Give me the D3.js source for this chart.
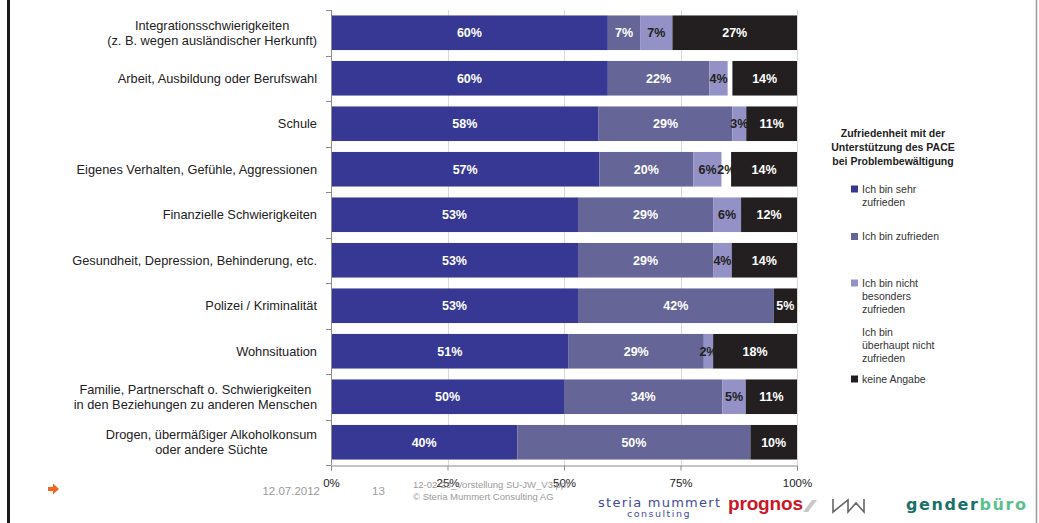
<!DOCTYPE html>
<html>
<head>
<meta charset="utf-8">
<script src="https://cdn.jsdelivr.net/npm/d3@7"></script>
<style>
  html, body { margin: 0; padding: 0; background: #ffffff; }
  svg { display: block; font-family: "Liberation Sans", Arial, sans-serif; }
</style>
</head>
<body>
<svg id="chart" width="1039" height="523"></svg>
<script>
// Problem areas (one line per label row)
const categories = [
  "Integrationsschwierigkeiten\n(z. B. wegen ausländischer Herkunft)",
  "Arbeit, Ausbildung oder Berufswahl",
  "Schule",
  "Eigenes Verhalten, Gefühle, Aggressionen",
  "Finanzielle Schwierigkeiten",
  "Gesundheit, Depression, Behinderung, etc.",
  "Polizei / Kriminalität",
  "Wohnsituation",
  "Familie, Partnerschaft o. Schwierigkeiten\nin den Beziehungen zu anderen Menschen",
  "Drogen, übermäßiger Alkoholkonsum\noder andere Süchte"
];

// Satisfaction answers in percent, per category
const sehrZufrieden        = [60, 60, 58, 57, 53, 53, 53, 51, 50, 40];
const zufrieden            = [ 7, 22, 29, 20, 29, 29, 42, 29, 34, 50];
const nichtBesonders       = [ 7,  4,  3,  6,  6,  4,  0,  2,  5,  0];
const ueberhauptNicht      = [ 0,  1,  0,  2,  0,  0,  0,  0,  0,  0];
const keineAngabe          = [27, 14, 11, 14, 12, 14,  5, 18, 11, 10];

const seriesNames = [
  "Ich bin sehr\nzufrieden",
  "Ich bin zufrieden",
  "Ich bin nicht\nbesonders\nzufrieden",
  "Ich bin\nüberhaupt nicht\nzufrieden",
  "keine Angabe"
];
const seriesKeys = ["sehr", "zuf", "nicht", "ueber", "keine"];
const seriesColors = ["#363894", "#656598", "#9391c6", "#ffffff", "#231f20"];
const labelColors  = ["#ffffff", "#ffffff", "#231f20", "#231f20", "#ffffff"];

const xTicks = [0, 0.25, 0.5, 0.75, 1];
const legendTitle = ["Zufriedenheit mit der", "Unterstützung des PACE", "bei Problembewältigung"];

// table for the stack layout
const rows = categories.map((c, i) => ({
  cat: c,
  sehr: sehrZufrieden[i],
  zuf: zufrieden[i],
  nicht: nichtBesonders[i],
  ueber: ueberhauptNicht[i],
  keine: keineAngabe[i]
}));

const svg = d3.select("#chart");
const plot = { left: 331, right: 797, top: 10, bottom: 465 };

const x = d3.scaleLinear().domain([0, 1]).range([plot.left, plot.right]);
const y = d3.scaleBand().domain(categories).range([plot.top, plot.bottom])
  .paddingInner(0.24).paddingOuter(0.12);

// outer frame lines of the slide
svg.append("line").attr("x1", 8.5).attr("x2", 8.5).attr("y1", 0).attr("y2", 523)
  .attr("stroke", "#1a1a1a").attr("stroke-width", 3);
svg.append("line").attr("x1", 1036.5).attr("x2", 1036.5).attr("y1", 0).attr("y2", 523)
  .attr("stroke", "#9a9a9a").attr("stroke-width", 1.5);

// vertical gridlines
svg.append("g").selectAll("line").data(xTicks.slice(1)).join("line")
  .attr("x1", d => Math.round(x(d)) + 0.5).attr("x2", d => Math.round(x(d)) + 0.5)
  .attr("y1", plot.top).attr("y2", plot.bottom)
  .attr("stroke", "#d9d9d9").attr("stroke-width", 1);

// stacked, normalised to 100 %
const stack = d3.stack().keys(seriesKeys).offset(d3.stackOffsetExpand);
const stacked = stack(rows);

const layers = svg.append("g").selectAll("g").data(stacked).join("g")
  .attr("fill", (d, i) => seriesColors[i]);

layers.selectAll("rect").data(d => d).join("rect")
  .attr("x", d => x(d[0]))
  .attr("width", d => Math.max(0, x(d[1]) - x(d[0])))
  .attr("y", d => y(d.data.cat))
  .attr("height", y.bandwidth());

// value labels
const labelLayer = svg.append("g").attr("font-weight", "bold").attr("font-size", 12.5)
  .attr("text-anchor", "middle");
stacked.forEach((layer, si) => {
  labelLayer.selectAll(null).data(layer.filter(d => d.data[layer.key] >= 2)).join("text")
    .attr("x", d => (x(d[0]) + x(d[1])) / 2)
    .attr("y", d => y(d.data.cat) + y.bandwidth() / 2)
    .attr("dy", "0.36em")
    .attr("fill", labelColors[si])
    .text(d => d.data[layer.key] + "%");
});

// y axis with tick marks between categories
const yAxis = svg.append("g").attr("stroke", "#8c8c8c");
yAxis.append("line").attr("x1", plot.left + 0.5).attr("x2", plot.left + 0.5)
  .attr("y1", plot.top).attr("y2", plot.bottom);
const step = y.step();
yAxis.selectAll(".tk").data(d3.range(categories.length + 1)).join("line")
  .attr("class", "tk")
  .attr("x1", plot.left - 5).attr("x2", plot.left)
  .attr("y1", i => Math.round(plot.top + i * step) + 0.5)
  .attr("y2", i => Math.round(plot.top + i * step) + 0.5);

// category labels
const catSize = 12.8;
const catLabels = svg.append("g").attr("font-size", catSize).attr("fill", "#222")
  .attr("text-anchor", "middle");
categories.forEach(c => {
  const lines = c.split("\n");
  const cy = y(c) + y.bandwidth() / 2;
  const lh = 15;
  const t = catLabels.append("text");
  // widest line defines the right-aligned block; lines centred within it
  const widths = [];
  lines.forEach(l => {
    const tmp = svg.append("text").attr("font-size", catSize).text(l);
    widths.push(tmp.node().getComputedTextLength());
    tmp.remove();
  });
  const maxW = d3.max(widths);
  const cx = 317 - maxW / 2;
  lines.forEach((l, k) => {
    t.append("tspan").attr("x", cx)
      .attr("y", cy + (k - (lines.length - 1) / 2) * lh)
      .attr("dy", "0.36em").text(l);
  });
});

// x axis
const xAxis = d3.axisBottom(x).tickValues(xTicks).tickFormat(d3.format(".0%")).tickSize(5);
const gx = svg.append("g").attr("transform", `translate(0,${plot.bottom + 0.5})`).call(xAxis);
gx.select(".domain").attr("stroke", "#8c8c8c");
gx.selectAll(".tick line").attr("stroke", "#8c8c8c");
gx.selectAll(".tick text").attr("font-size", 11.5).attr("fill", "#222")
  .attr("font-family", "Liberation Sans, Arial, sans-serif").attr("y", 13);

// legend
const lg = svg.append("g");
lg.append("text").attr("font-weight", "bold").attr("font-size", 10.5).attr("fill", "#222")
  .attr("text-anchor", "middle")
  .selectAll("tspan").data(legendTitle).join("tspan")
  .attr("x", 893).attr("y", (d, i) => 136.5 + i * 14).text(d => d);

const legendY = [189, 236.5, 283, 332, 379];
seriesNames.forEach((name, i) => {
  lg.append("rect").attr("x", 851).attr("y", legendY[i] - 3.5)
    .attr("width", 7).attr("height", 7).attr("fill", seriesColors[i]);
  const t = lg.append("text").attr("font-size", 10.5).attr("fill", "#333");
  name.split("\n").forEach((l, k) => {
    t.append("tspan").attr("x", 862).attr("y", legendY[i] + k * 13.3)
      .attr("dy", "0.36em").text(l);
  });
});

// slide footer
const ft = svg.append("g").attr("fill", "#9a9a9a");
ft.append("path").attr("d", "M48,487 h5 v-3.5 l6,5.5 l-6,5.5 v-3.5 h-5 z").attr("fill", "#f26522");
ft.append("text").attr("x", 320).attr("y", 495).attr("font-size", 11.5)
  .attr("text-anchor", "end").text("12.07.2012");
ft.append("text").attr("x", 372).attr("y", 495).attr("font-size", 11.5).text("13");
ft.append("text").attr("x", 413).attr("y", 488).attr("font-size", 9.5)
  .text("12-02-23_Vorstellung SU-JW_V3.ppt");
ft.append("text").attr("x", 413).attr("y", 500).attr("font-size", 9.5)
  .text("© Steria Mummert Consulting AG");

// partner names
const logos = svg.append("g").attr("font-weight", "bold");
logos.append("text").attr("x", 659).attr("y", 507).attr("text-anchor", "middle")
  .attr("font-size", 13).attr("fill", "#3f4c9c").attr("font-family", "Verdana, DejaVu Sans, sans-serif")
  .attr("font-weight", "normal").attr("textLength", 122).text("steria mummert");
logos.append("text").attr("x", 659).attr("y", 517).attr("text-anchor", "middle")
  .attr("font-size", 9.5).attr("fill", "#3f4c9c").attr("font-family", "Verdana, DejaVu Sans, sans-serif")
  .attr("font-weight", "normal").attr("letter-spacing", 1.5).text("consulting");
logos.append("text").attr("x", 728).attr("y", 510).attr("font-size", 19)
  .attr("fill", "#cc1525").attr("textLength", 75).text("prognos");
logos.append("path").attr("d", "M803,512 L812,500 L817,500 L808,512 Z").attr("fill", "#c8c8c8");
logos.append("path").attr("d", "M833,499 V512 L848,500 V512 L856,503 L864,512 V499")
  .attr("fill", "none").attr("stroke", "#666").attr("stroke-width", 1.6);
const gb = logos.append("text").attr("x", 906).attr("y", 510).attr("font-size", 16)
  .attr("font-family", "Verdana, DejaVu Sans, sans-serif").attr("textLength", 120);
gb.append("tspan").attr("fill", "#1b7068").text("gender");
gb.append("tspan").attr("fill", "#5cc08e").text("büro");
</script>
</body>
</html>
